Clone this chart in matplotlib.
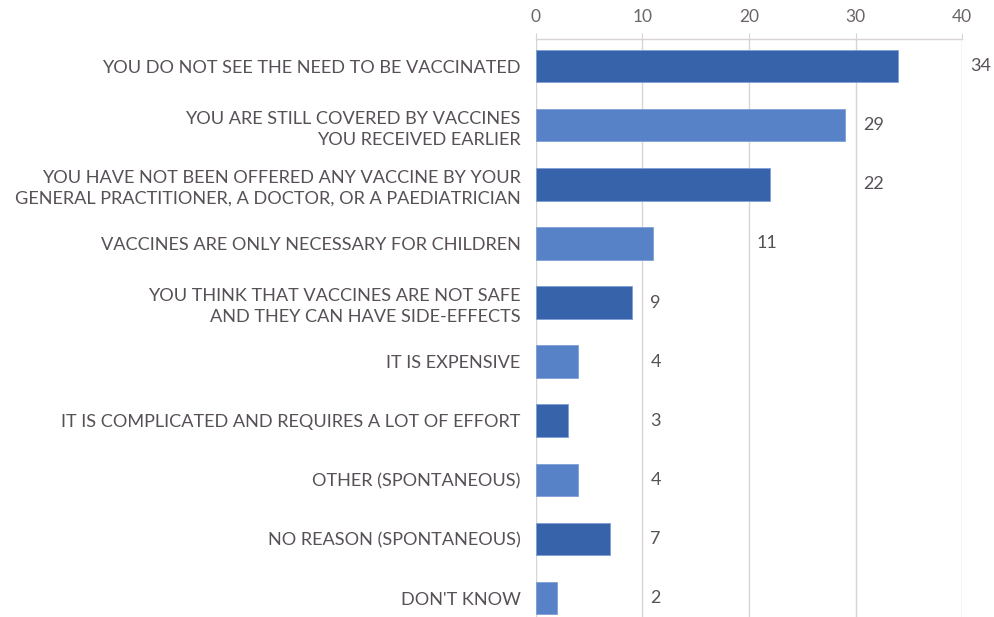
import numpy as np
import matplotlib
matplotlib.use("Agg")
import matplotlib.pyplot as plt

reasons = [
    "YOU DO NOT SEE THE NEED TO BE VACCINATED",
    "YOU ARE STILL COVERED BY VACCINES\nYOU RECEIVED EARLIER",
    "YOU HAVE NOT BEEN OFFERED ANY VACCINE BY YOUR\nGENERAL PRACTITIONER, A DOCTOR, OR A PAEDIATRICIAN",
    "VACCINES ARE ONLY NECESSARY FOR CHILDREN",
    "YOU THINK THAT VACCINES ARE NOT SAFE\nAND THEY CAN HAVE SIDE-EFFECTS",
    "IT IS EXPENSIVE",
    "IT IS COMPLICATED AND REQUIRES A LOT OF EFFORT",
    "OTHER (SPONTANEOUS)",
    "NO REASON (SPONTANEOUS)",
    "DON'T KNOW",
]
values = [34, 29, 22, 11, 9, 4, 3, 4, 7, 2]
ticks = [0, 10, 20, 30, 40]

dark = "#3763aa"
light = "#5782c8"
text_col = "#575057"
grid_col = "#d9d4d2"

plt.rcParams["font.family"] = ["Lato", "DejaVu Sans"]

fig = plt.figure(figsize=(9.94, 6.17), dpi=100)
ax = fig.add_axes([0.539, 0.0, 0.429, 0.937])

y = np.arange(len(values))
colors = [dark if i % 2 == 0 else light for i in y]
ax.barh(y, values, height=0.55, color=colors, edgecolor="#7f9fd6",
        linewidth=0.6, zorder=3)

# value labels sit just right of the next gridline
for yi, v in zip(y, values):
    xl = np.ceil(v / 10) * 10
    if xl == v:
        xl += 10
    ax.text(xl + 0.75, yi, str(v), va="center", ha="left",
            fontsize=13, color=text_col)

ax.set_xlim(0, 40)
ax.set_ylim(9.32, -0.46)
ax.set_xticks(ticks)
ax.xaxis.tick_top()
ax.tick_params(axis="x", length=4, color=grid_col, labelsize=12.5,
               labelcolor="#6b6568", pad=6)
ax.set_yticks(y)
ax.set_yticklabels(reasons, fontsize=13.1, color=text_col, linespacing=1.4)
ax.tick_params(axis="y", length=0, pad=11)
ax.grid(axis="x", color=grid_col, linewidth=1, zorder=0)
for s in ["left", "right", "bottom"]:
    ax.spines[s].set_visible(False)
ax.spines["top"].set_color(grid_col)
ax.spines["top"].set_linewidth(1)

fig.savefig("out.png", dpi=100, facecolor="white")
